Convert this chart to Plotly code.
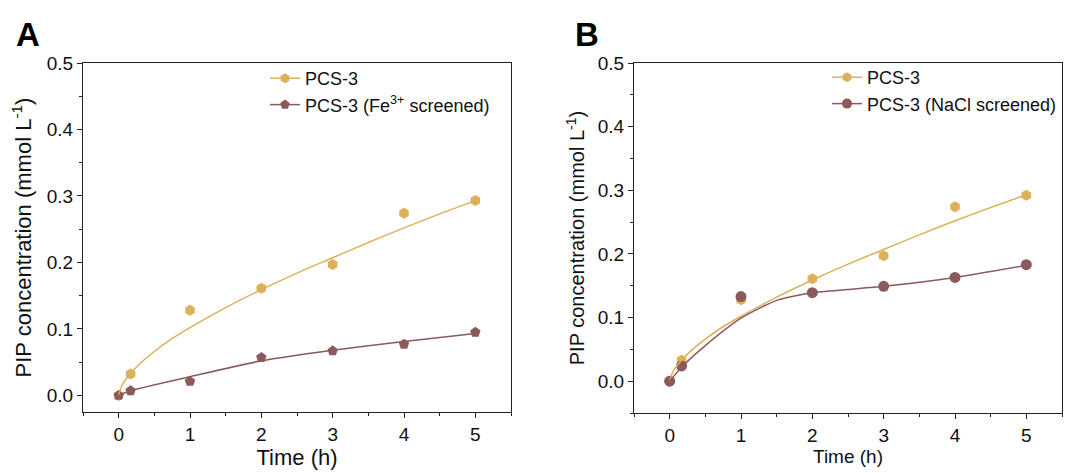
import plotly.graph_objects as go

# ---- data ----
time_h = [0, 0.167, 1, 2, 3, 4, 5]

a_pcs3 = [0, 0.032, 0.128, 0.161, 0.197, 0.274, 0.293]
a_fe = [0, 0.007, 0.021, 0.057, 0.067, 0.077, 0.095]

b_pcs3 = [0, 0.033, 0.128, 0.161, 0.197, 0.274, 0.292]
b_nacl = [0, 0.024, 0.133, 0.139, 0.149, 0.163, 0.183]

# fitted curves
fit_t = [0, 0.05, 0.167, 0.3, 0.5, 0.7, 1, 1.5, 2, 2.5, 3, 3.5, 4, 4.5, 5]
fit_pcs3 = [0, 0.016, 0.033, 0.048, 0.066, 0.082, 0.102, 0.132, 0.159, 0.184, 0.207, 0.230, 0.252, 0.273, 0.293]
fit_fe_t = [0, 0.167, 1, 2, 3, 4, 5]
fit_fe = [0, 0.007, 0.028, 0.052, 0.068, 0.081, 0.093]
fit_nacl_t = [0, 0.167, 0.5, 1, 1.5, 2, 2.5, 3, 4, 5]
fit_nacl = [0, 0.022, 0.056, 0.099, 0.127, 0.139, 0.144, 0.149, 0.163, 0.182]

x_ticks = [0, 1, 2, 3, 4, 5]

GOLD = "#DDB05A"
BROWN = "#8C5A5C"
FONT = "Liberation Sans, Arial, sans-serif"

fig = go.Figure()

def add_panel(xa, ya, legend, pts, fits, names, symbols):
    for (xs, ys), col, sym in zip(pts, [GOLD, BROWN], symbols):
        fig.add_trace(go.Scatter(x=xs, y=ys, mode="markers", xaxis=xa, yaxis=ya,
                                 marker=dict(color=col, size=11, symbol=sym),
                                 showlegend=False))
    for (xs, ys), col in zip(fits, [GOLD, BROWN]):
        fig.add_trace(go.Scatter(x=xs, y=ys, mode="lines", xaxis=xa, yaxis=ya,
                                 line=dict(color=col, width=1.5, shape="spline", smoothing=0.6),
                                 showlegend=False))
    for name, col, sym in zip(names, [GOLD, BROWN], symbols):
        fig.add_trace(go.Scatter(x=[None], y=[None], mode="lines+markers", xaxis=xa, yaxis=ya,
                                 name=name, legend=legend,
                                 marker=dict(color=col, size=10, symbol=sym),
                                 line=dict(color=col, width=1.5)))

add_panel("x", "y", "legend",
          [(time_h, a_pcs3), (time_h, a_fe)],
          [(fit_t, fit_pcs3), (fit_fe_t, fit_fe)],
          ["PCS-3", "PCS-3 (Fe<sup>3+</sup> screened)"],
          ["hexagon", "pentagon"])
add_panel("x2", "y2", "legend2",
          [(time_h, b_pcs3), (time_h, b_nacl)],
          [(fit_t, fit_pcs3), (fit_nacl_t, fit_nacl)],
          ["PCS-3", "PCS-3 (NaCl screened)"],
          ["hexagon", "circle"])

common_x = dict(showline=True, linecolor="#222", linewidth=1.2, mirror=True, automargin=False,
                ticks="outside", ticklen=5, tickwidth=1, tickcolor="#222",
                tickvals=x_ticks, range=[-0.5, 5.5], showgrid=False, zeroline=False,
                minor=dict(dtick=0.5, tick0=0, ticks="outside", ticklen=3, tickcolor="#222", showgrid=False),
                tickfont=dict(size=19, color="#111"))
common_y = dict(showline=True, linecolor="#222", linewidth=1.2, mirror=True, automargin=False,
                ticks="outside", ticklen=5, tickwidth=1, tickcolor="#222",
                dtick=0.1, tick0=0, tickformat=".1f", showgrid=False, zeroline=False,
                minor=dict(dtick=0.05, tick0=0, ticks="outside", ticklen=3, tickcolor="#222", showgrid=False),
                tickfont=dict(size=19, color="#111"))

fig.update_layout(
    width=1068, height=473, margin=dict(l=0, r=0, t=0, b=0, autoexpand=False),
    paper_bgcolor="white", plot_bgcolor="white",
    font=dict(family=FONT, color="#111"),
    xaxis=dict(common_x, domain=[83/1068, 511/1068], anchor="y",
               title=dict(text="Time (h)", font=dict(size=22), standoff=2)),
    yaxis=dict(common_y, domain=[1-412/473, 1-63/473], anchor="x", range=[-0.025, 0.5],
               title=dict(text="PIP concentration (mmol L<sup>-1</sup>)", font=dict(size=22), standoff=8)),
    xaxis2=dict(common_x, domain=[634/1068, 1062/1068], anchor="y2",
                title=dict(text="Time (h)", font=dict(size=19), standoff=0)),
    yaxis2=dict(common_y, domain=[1-413/473, 1-63/473], anchor="x2", range=[-0.05, 0.5],
                title=dict(text="PIP concentration (mmol L<sup>-1</sup>)", font=dict(size=20), standoff=7)),
    legend=dict(x=265/1068, y=1-60/473, xanchor="left", yanchor="top",
                bgcolor="rgba(0,0,0,0)", font=dict(size=18), tracegroupgap=0, itemwidth=30),
    legend2=dict(x=827/1068, y=1-59/473, xanchor="left", yanchor="top",
                 bgcolor="rgba(0,0,0,0)", font=dict(size=18), tracegroupgap=0, itemwidth=30),
    annotations=[
        dict(text="<b>A</b>", x=14/1068, y=1-14/473, xref="paper", yref="paper",
             xanchor="left", yanchor="top", showarrow=False, font=dict(size=33, color="black")),
        dict(text="<b>B</b>", x=573/1068, y=1-14/473, xref="paper", yref="paper",
             xanchor="left", yanchor="top", showarrow=False, font=dict(size=33, color="black")),
    ],
)

fig.write_html("out.html")
